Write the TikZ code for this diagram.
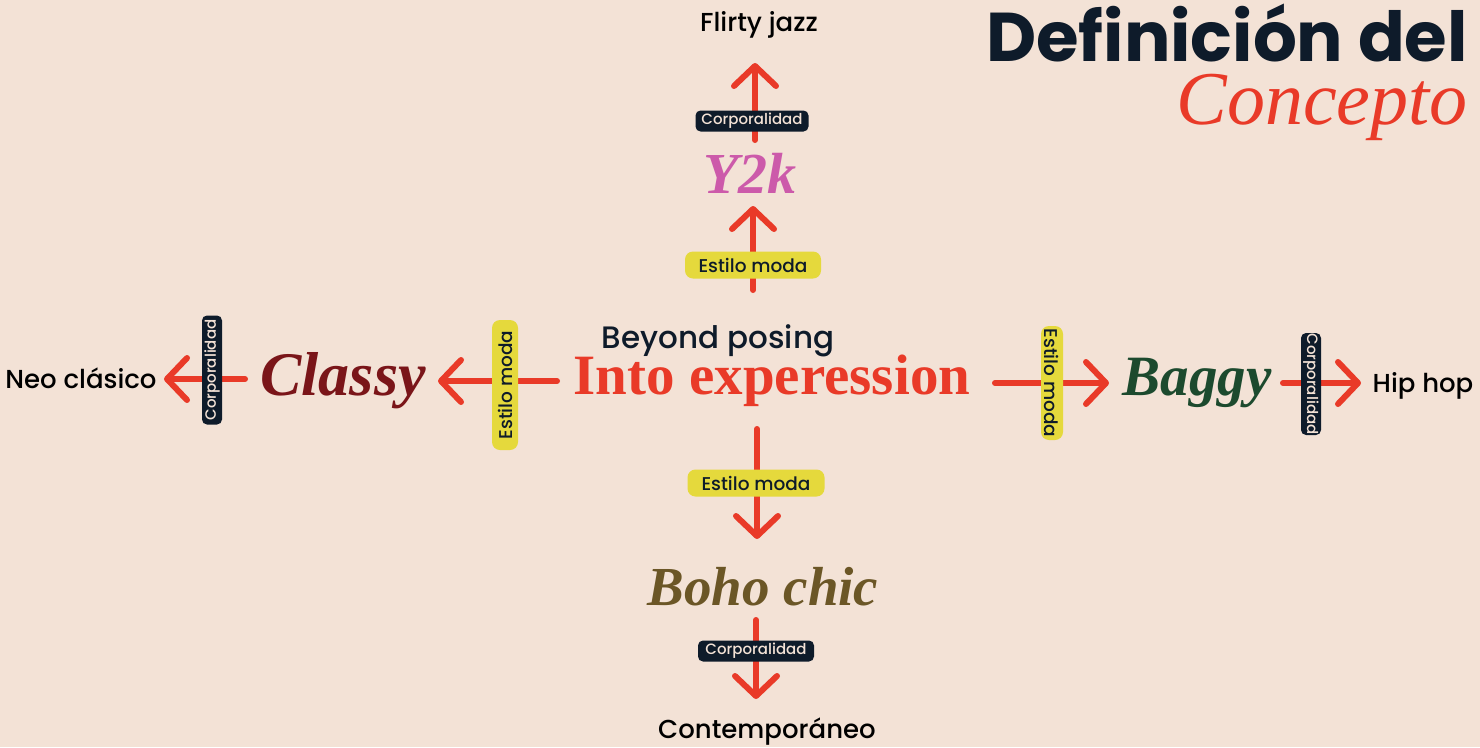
\documentclass[tikz,border=0pt]{standalone}
\usepackage{fontspec}
\setmainfont{Liberation Serif}
\newfontfamily\sans{Poppins}
\newfontfamily\sansm{Poppins Medium}
\usetikzlibrary{arrows.meta}
\definecolor{bg}{HTML}{F3E2D6}
\definecolor{redc}{HTML}{E93A28}
\definecolor{navy}{HTML}{0E1B2A}
\definecolor{yel}{HTML}{E5D93C}
\definecolor{pinkc}{HTML}{CC5AAA}
\definecolor{darkred}{HTML}{7A1519}
\definecolor{greenc}{HTML}{1C4A2E}
\definecolor{olive}{HTML}{6B5626}
\tikzset{
  arr/.style={draw=redc, line width=6pt, line cap=round,
    -{Straight Barb[length=20pt,width=42pt,round]}},
  leaf/.style={font=\sansm\fontsize{26}{26}\selectfont, text=black, anchor=base, inner sep=0pt},
  big/.style={font=\bfseries\itshape\fontsize{60}{60}\selectfont, anchor=base, inner sep=0pt},
  ybadge/.style={fill=yel, rounded corners=8pt, text=navy, inner sep=0pt,
    font=\sansm\fontsize{18.5}{18.5}\selectfont},
  dbadge/.style={fill=navy, rounded corners=5pt, text=bg, inner sep=0pt,
    font=\sansm\fontsize{15}{15}\selectfont},
}
\begin{document}
\begin{tikzpicture}[x=1pt,y=-1pt]
\fill[bg] (0,0) rectangle (1480,747);
\useasboundingbox (0,0) rectangle (1480,747);

% title
\node[font=\sans\bfseries\fontsize{69}{69}\selectfont, text=navy, anchor=base east, inner sep=0pt] (t1) at (1468,61) {Definición del};
\node[font=\itshape\fontsize{76}{76}\selectfont, text=redc, anchor=base east, inner sep=0pt] (t2) at (1468,124) {Concepto};

% center
\node[font=\sansm\fontsize{31}{31}\selectfont, text=navy, anchor=base, inner sep=0pt] (beyond) at (718,348) {Beyond posing};
\node[font=\bfseries\fontsize{57}{57}\selectfont, text=redc, anchor=base, inner sep=0pt] (into) at (772,394) {Into experession};

% main nodes
\node[big, text=pinkc, font=\bfseries\itshape\fontsize{58}{58}\selectfont] (y2k) at (750,193) {Y2k};
\node[big, text=darkred, font=\bfseries\itshape\fontsize{62}{62}\selectfont] (classy) at (343,395) {Classy};
\node[big, text=greenc, font=\bfseries\itshape\fontsize{57}{57}\selectfont] (baggy) at (1197,395) {Baggy};
\node[big, text=olive, font=\bfseries\itshape\fontsize{55}{55}\selectfont] (boho) at (763,605) {Boho chic};

% leaves
\node[leaf] (flirty) at (759,31) {Flirty jazz};
\node[leaf] (neo) at (81,388) {Neo clásico};
\node[leaf] (hip) at (1423,392) {Hip hop};
\node[leaf] (cont) at (767,738) {Contemporáneo};

% connector end points
\coordinate (u1s) at (753,290); \coordinate (u1e) at (753,206);
\coordinate (u2s) at (755,140); \coordinate (u2e) at (755,63);
\coordinate (l1s) at (557,381); \coordinate (l1e) at (438,381);
\coordinate (l2s) at (245,379); \coordinate (l2e) at (164,379);
\coordinate (r1s) at (995,383); \coordinate (r1e) at (1109,383);
\coordinate (r2s) at (1283,383); \coordinate (r2e) at (1361,383);
\coordinate (d1s) at (757,429); \coordinate (d1e) at (757,539);
\coordinate (d2s) at (756,620); \coordinate (d2e) at (756,699);

\draw[arr] (u1s) -- (u1e);
\draw[arr] (u2s) -- (u2e);
\draw[arr] (l1s) -- (l1e);
\draw[arr] (l2s) -- (l2e);
\draw[arr] (r1s) -- (r1e);
\draw[arr] (r2s) -- (r2e);
\draw[arr] (d1s) -- (d1e);
\draw[arr] (d2s) -- (d2e);

% badges
\node[ybadge, minimum width=136pt, minimum height=27pt] (b1) at (753,265) {Estilo moda};
\node[dbadge, minimum width=113pt, minimum height=21pt] (b2) at (752,121) {Corporalidad};
\node[ybadge, rotate=90, minimum width=130pt, minimum height=26pt] (b3) at (505,385) {Estilo moda};
\node[dbadge, rotate=90, minimum width=109pt, minimum height=20pt] (b4) at (212,370) {Corporalidad};
\node[ybadge, rotate=-90, minimum width=114pt, minimum height=22pt] (b5) at (1052,383) {Estilo moda};
\node[dbadge, rotate=-90, minimum width=102pt, minimum height=20pt] (b6) at (1311,384) {Corporalidad};
\node[ybadge, minimum width=137pt, minimum height=27pt] (b7) at (756,483) {Estilo moda};
\node[dbadge, minimum width=116pt, minimum height=21pt] (b8) at (756,651) {Corporalidad};
\end{tikzpicture}
\end{document}
